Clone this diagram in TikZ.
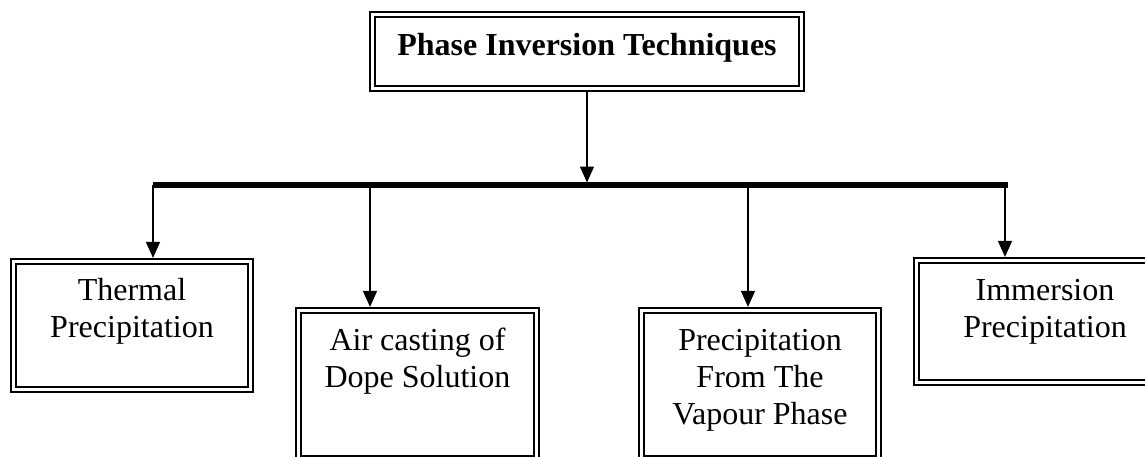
\documentclass[tikz,border=0pt]{standalone}
\usepackage{fontspec}
\setmainfont{Liberation Serif}
\usetikzlibrary{arrows.meta}
\begin{document}
\begin{tikzpicture}[x=1pt,y=-1pt,
  dbox/.style n args={2}{draw, line width=1.8pt, double, double distance=3.4pt,
    minimum width=#1, minimum height=#2, inner sep=0pt, outer sep=0pt},
  txt/.style={anchor=north, inner sep=0pt, align=center,
    font=\fontsize{32}{37}\selectfont},
  arr/.style={line width=1.4pt, -{Triangle[width=14pt,length=16pt]}},
  bar/.style={line width=5.5pt}]
\useasboundingbox (0,0) rectangle (1145,456);
\clip (0,0) rectangle (1145,456);
% boxes
\node[dbox={429pt}{74pt}] (top) at (587,51.5) {};
\node[txt, font=\fontsize{32}{37}\selectfont\bfseries] (topt) at ([yshift=-17pt]top.north) {\rule{0pt}{24pt}Phase Inversion Techniques};
\node[dbox={237pt}{128pt}] (th) at (132,325.5) {};
\node[txt] (tht) at ([yshift=-15pt]th.north) {\rule{0pt}{24pt}Thermal\\Precipitation};
\node[dbox={238pt}{148pt}] (air) at (417.5,384.5) {};
\node[txt] (airt) at ([yshift=-16pt]air.north) {\rule{0pt}{24pt}Air casting of\\Dope Solution};
\node[dbox={237pt}{148pt}] (vap) at (760,384.5) {};
\node[txt] (vapt) at ([yshift=-16pt]vap.north) {\rule{0pt}{24pt}Precipitation\\From The\\Vapour Phase};
\node[dbox={257pt}{122pt}] (imm) at (1045,321.5) {};
\node[txt] (immt) at ([yshift=-15.5pt]imm.north) {\rule{0pt}{24pt}Immersion\\Precipitation};
% bar
\coordinate (bl) at (153,185);
\coordinate (br) at (1008,185);
\coordinate (bm) at (587,182.5);
\draw[bar] (bl) -- (br);
\draw[arr, shorten <=3.6pt] (top.south) -- (bm);
\coordinate (d1) at (153,185);
\coordinate (d2) at (370,185);
\coordinate (d3) at (748,185);
\coordinate (d4) at (1005,185);
\draw[arr, shorten >=3.6pt] (d1) -- (d1 |- th.north);
\draw[arr, shorten >=3.6pt] (d2) -- (d2 |- air.north);
\draw[arr, shorten >=3.6pt] (d3) -- (d3 |- vap.north);
\draw[arr, shorten >=3.6pt] (d4) -- (d4 |- imm.north);
\end{tikzpicture}
\end{document}
